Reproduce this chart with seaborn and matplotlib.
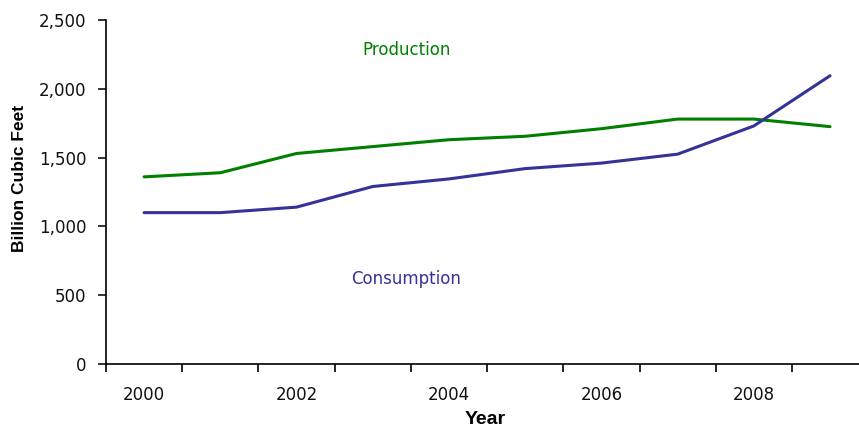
import matplotlib
matplotlib.use('Agg')
import matplotlib.pyplot as plt
import matplotlib.ticker as mticker
import seaborn as sns
import pandas as pd

years = [2000, 2001, 2002, 2003, 2004, 2005, 2006, 2007, 2008, 2009]
production = [1360, 1390, 1530, 1580, 1630, 1655, 1710, 1780, 1780, 1725]
consumption = [1100, 1100, 1140, 1290, 1345, 1420, 1460, 1525, 1730, 2095]

year_labels = ['2000', '2002', '2004', '2006', '2008']
y_ticks = [0, 500, 1000, 1500, 2000, 2500]

df = pd.DataFrame({'Year': years, 'Production': production, 'Consumption': consumption})

sns.set_style('white')
plt.rcParams['font.family'] = ['DejaVu Sans']
plt.rcParams['text.color'] = 'black'

fig = plt.figure(figsize=(8.59, 4.28), dpi=100)
ax = fig.add_axes([106 / 859, 1 - 364 / 428, 1 - 106 / 859, 344 / 428])

sns.lineplot(data=df, x='Year', y='Production', color='#008000', linewidth=2.2, ax=ax)
sns.lineplot(data=df, x='Year', y='Consumption', color='#333399', linewidth=2.2, ax=ax)

ax.set_xticks([int(y) for y in year_labels])
ax.set_xticklabels(year_labels)
ax.set_xticks([y - 0.5 for y in years] + [2009.5], minor=True)
ax.tick_params(axis='x', which='major', length=0, pad=16, labelsize=12, colors='#111111')
ax.tick_params(axis='x', which='minor', length=6, width=1.2, direction='out', color='black', bottom=True)

ax.set_yticks(y_ticks)
ax.yaxis.set_major_formatter(mticker.FuncFormatter(lambda v, p: f'{int(v):,}'))
ax.tick_params(axis='y', which='major', length=6, width=1.2, direction='out', pad=8,
               labelsize=12, colors='#111111', left=True)

# limits after the ticks, otherwise set_xticks widens the view
ax.set_xlim(1999.5, 2009.38)
ax.set_ylim(0, 2500)

for side in ['top', 'right']:
    ax.spines[side].set_visible(False)
for side in ['left', 'bottom']:
    ax.spines[side].set_color('black')
    ax.spines[side].set_linewidth(1.2)

ax.set_xlabel('')
ax.set_ylabel('')
fig.text(20 / 859, 1 - 178 / 428, 'Billion Cubic Feet', rotation=90, ha='center', va='center',
         fontsize=12.5, fontweight='bold', family='Liberation Sans', color='black')
fig.text(485 / 859, 1 - 420 / 428, 'Year', ha='center', va='center', fontsize=14,
         fontweight='bold', family='Liberation Sans', color='black')

ax.text(2003.44, 2280, 'Production', color='#008000', fontsize=12, ha='center', va='center')
ax.text(2003.44, 618, 'Consumption', color='#333399', fontsize=12, ha='center', va='center')

fig.savefig('out.png', dpi=100)
